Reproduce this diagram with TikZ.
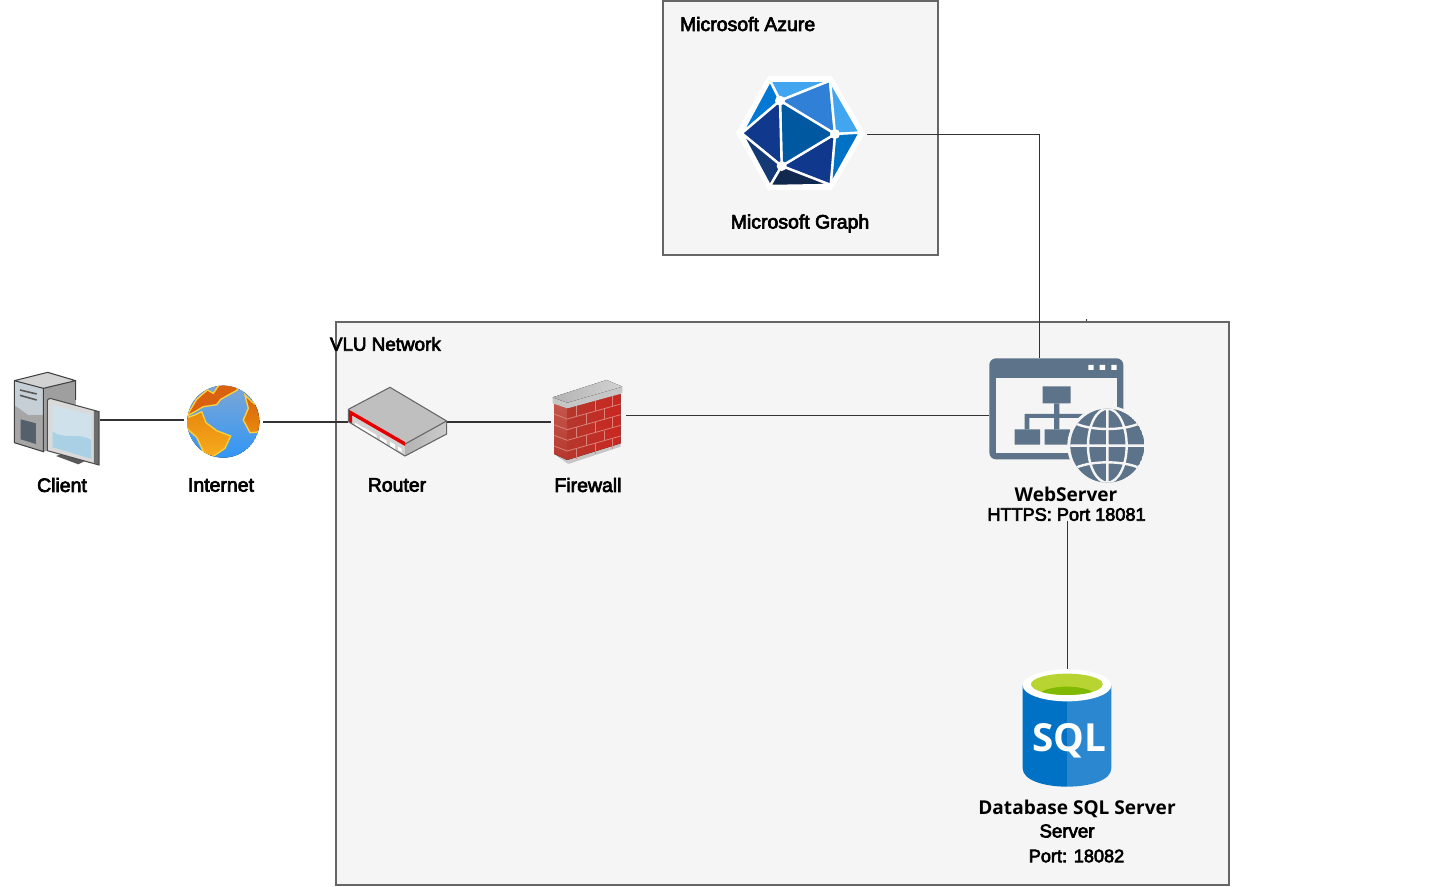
\documentclass[tikz,border=0pt]{standalone}
\usepackage{fontspec}
\setmainfont{Liberation Sans}[AutoFakeBold=3.5]
\newfontfamily\headfont{Open Sans}
\usetikzlibrary{positioning}
\definecolor{boxfill}{HTML}{F5F5F5}
\definecolor{boxline}{HTML}{666666}
\definecolor{wireline}{HTML}{333333}
\definecolor{slate}{HTML}{5D7389}
\definecolor{brick}{HTML}{B5372D}
\definecolor{brickside}{HTML}{C4574C}
\definecolor{mortar}{HTML}{D9827A}
\definecolor{landdark}{HTML}{D9610F}
\definecolor{landmid}{HTML}{E8890F}
\definecolor{landlight}{HTML}{F7AC1C}
\definecolor{landedge}{HTML}{FFD23C}
\definecolor{screentop}{HTML}{CFE2EC}
\definecolor{screenlow}{HTML}{A9D0E4}
\begin{document}
\begin{tikzpicture}[x=0.75pt,y=-0.75pt,inner sep=0pt,outer sep=0pt,
groupbox/.style={draw=boxline,fill=boxfill,line width=2.2pt},
icon/.style={rectangle},
wire/.style={draw=wireline,line width=0.6pt},
thickwire/.style={draw=wireline,line width=1.4pt},
tag/.style={font=\fontsize{14.6}{16}\selectfont\bfseries,text=black},
numtag/.style={font=\fontsize{13.6}{16}\selectfont\bfseries,text=black},
headtag/.style={font=\fontsize{14.3}{16}\headfont\bfseries,text=black}]
\useasboundingbox (0,0) rectangle (1429,887);

% stray end behind the network box
\coordinate (webtick) at (1086,319);
\draw[wire] (webtick) -- ++(0,5);

\draw[groupbox] (663,1) rectangle (938,255);
\draw[groupbox] (336,322) rectangle (1229,885);

% icon places
\draw (57,420) node[icon,minimum width=64.5pt,minimum height=72pt] (client) {};
\draw (223.5,422) node[icon,minimum width=59.25pt,minimum height=54pt] (internet) {};
\draw (397.5,422) node[icon,minimum width=74.25pt,minimum height=54pt] (router) {};
\draw (588.5,415) node[icon,minimum width=56.25pt,minimum height=75pt] (firewall) {};
\draw (1067,420) node[icon,minimum width=117pt,minimum height=93pt] (web) {};
\draw (1067,728) node[icon,minimum width=67.5pt,minimum height=88.5pt] (sql) {};
\draw (801,134) node[icon,minimum width=99pt,minimum height=88.5pt] (graph) {};
\coordinate (webtop) at (1039,358);

% labels
\draw (62,485) node[tag] (clienttag) {Client};
\draw (221,485) node[tag] (internettag) {Internet};
\draw (397,485) node[tag] (routertag) {Router};
\draw (588,485) node[tag] (firewalltag) {Firewall};
\draw (800,223.5) node[tag] (graphtag) {Microsoft Graph};
\draw (680,24) node[tag,anchor=west] (azuretag) {Microsoft Azure};
\draw (330,344) node[numtag,font=\fontsize{14.1}{16}\selectfont\bfseries,anchor=west] (vlutag) {VLU Network};
\draw (1066,494) node[headtag] (webtag) {WebServer};
\draw (1066.5,514.5) node[numtag] (webport) {HTTPS: Port 18081};
\draw (1077,808.5) node[headtag] (sqltag) {Database SQL Server};
\draw (1067,831) node[numtag,font=\fontsize{14}{16}\selectfont\bfseries] (sqlserver) {Server};
\draw (1076.5,856) node[numtag] (sqlport) {Port: 18082};

% connectors
\draw[thickwire] (client.east) -- (client.east -| internet.west);
\draw[thickwire] (internet.east) -- (router.west);
\draw[thickwire] (router.east) -- (router.east -| firewall.west);
\draw[wire] (firewall.east) -- (firewall.east -| web.west);
\draw[wire] (graph.east) -| (webtop);
\draw[wire] (sql.north |- webport.south) -- (sql.north);

% client
\begin{scope}[shift={(0,360)},scale=1/3]
\fill[gray!70] (43,62) -- (143,37) -- (227,62) -- (227,250) -- (130,275) -- (43,248) -- cycle;
\fill[gray!75] (130,85) -- (227,62) -- (227,250) -- (130,275) -- cycle;
\fill[gray!35] (43,62) -- (143,37) -- (227,62) -- (130,85) -- cycle;
\fill[white!65!slate] (43,62) -- (130,85) -- (130,165) -- (85,165) -- (43,135) -- cycle;
\fill[gray!35!slate!80!black] (62,178) -- (108,190) -- (108,252) -- (62,238) -- cycle;
\draw[black!65,line width=1.2pt] (60,90) -- (110,102) (60,106) -- (110,120);
\draw[black!75,line width=0.8pt] (43,62) -- (143,37) -- (227,62) -- (227,120) (43,62) -- (130,85) -- (227,62) (43,62) -- (43,248) -- (130,275) -- (130,85);
\fill[gray!70!black] (168,288) -- (185,282) -- (260,300) -- (235,313) -- cycle;
\fill[gray!30] (142,120) -- (150,115) -- (297,155) -- (297,315) -- (142,272) -- cycle;
\fill[gray!85!black] (282,150) -- (297,155) -- (297,315) -- (282,310) -- cycle;
\fill[screentop] (158,135) -- (274,165) -- (274,296) -- (158,262) -- cycle;
\fill[screenlow] (158,215) .. controls (190,240) and (230,215) .. (274,240) -- (274,296) -- (158,262) -- cycle;
\draw[black!70,line width=0.8pt] (142,120) -- (150,115) -- (297,155) -- (297,315) -- (142,272) -- cycle;
\end{scope}

% internet globe
\begin{scope}[shift={(0,360)},scale=1/3]
\begin{scope}
\clip (670,185) circle (108);
\fill[top color={rgb,255:red,126;green,166;blue,214},bottom color={rgb,255:red,48;green,150;blue,245}] (670,185) circle (108);
\filldraw[top color=landmid,bottom color=landlight,draw=landedge,line width=1pt] (555,175) -- (585,165) -- (605,155) -- (618,188) -- (650,212) -- (692,228) -- (675,265) -- (635,292) -- (610,275) -- (590,232) -- (555,200) -- cycle;
\filldraw[fill=landdark,draw=landedge,line width=1pt] (560,168) -- (590,118) -- (622,90) -- (640,100) -- (660,70) -- (712,70) -- (712,90) -- (662,118) -- (650,134) -- (610,140) -- (585,155) -- cycle;
\filldraw[top color=landdark,bottom color=landmid,draw=landedge,line width=1pt] (735,105) -- (755,125) -- (790,150) -- (785,215) -- (750,218) -- (730,180) -- (745,145) -- cycle;
\end{scope}
\end{scope}

% router
\begin{scope}[shift={(330,320)},scale=1/3]
\fill[gray!50] (55,268) -- (180,202) -- (350,303) -- (225,372) -- cycle;
\fill[gray!35] (55,268) -- (225,372) -- (225,408) -- (55,305) -- cycle;
\fill[left color=gray!60,right color=gray!40] (225,372) -- (350,303) -- (350,342) -- (225,408) -- cycle;
\fill[red!90!black] (55,268) -- (225,366) -- (225,378) -- (66,286) -- (66,311) -- (55,305) -- cycle;
\fill[white] (75,308) -- (140,345) -- (140,355) -- (75,318) -- cycle;
\fill[white] (150,350) -- (170,362) -- (170,372) -- (150,360) -- cycle;
\fill[white] (180,365) -- (195,374) -- (195,388) -- (180,380) -- cycle;
\fill[white] (204,380) -- (215,386) -- (215,396) -- (204,390) -- cycle;
\draw[boxline,line width=0.8pt] (55,268) -- (180,202) -- (350,303) -- (350,342) -- (225,408) -- (55,305) -- cycle (225,372) -- (350,303);
\end{scope}

% firewall
\begin{scope}[shift={(330,320)},scale=1/3]
\fill[gray!45] (680,250) -- (715,262) -- (715,432) -- (680,408) -- cycle;
\fill[gray!45] (715,432) -- (872,380) -- (872,368) -- (715,420) -- cycle;
\fill[top color=brickside,bottom color=brick] (672,250) -- (712,265) -- (712,420) -- (672,402) -- cycle;
\fill[left color=brick,right color=red!30!brick] (712,265) -- (872,220) -- (872,370) -- (712,420) -- cycle;
\foreach \row in {0,1,2,3}
  \draw[mortar,line width=0.6pt] (672,{282+\row*32}) -- (712,{297+\row*32}) -- (872,{252+\row*32});
\foreach \xa/\ya in {740/258,795/242,848/228,768/282,822/268,740/322,795/306,848/292,768/346,822/332,740/386,795/370,848/356}
  \draw[mortar,line width=0.6pt] (\xa,\ya) -- ++(0,32);
\fill[gray!45] (668,232) -- (830,180) -- (877,200) -- (877,220) -- (712,265) -- (668,250) -- cycle;
\fill[left color=gray!60,right color=gray!35] (668,232) -- (830,180) -- (877,200) -- (712,248) -- cycle;
\end{scope}

% graph hexagon
\begin{scope}[shift={(720,60)},scale=1/3]
\fill[white] (145,48) -- (335,48) -- (435,220) -- (335,390) -- (145,390) -- (48,218) -- cycle;
\coordinate (gA) at (180,122);
\coordinate (gB) at (345,222);
\coordinate (gC) at (185,318);
\coordinate (gL) at (65,220);
\coordinate (gTL) at (150,62);
\coordinate (gTR) at (330,62);
\coordinate (gR) at (420,218);
\coordinate (gBR) at (332,375);
\coordinate (gBL) at (150,378);
\tikzset{face/.style={draw=white,line width=1.8pt,line join=round}}
\filldraw[face,fill={rgb,255:red,66;green,165;blue,240}] (gTL) -- (gTR) -- (gA) -- cycle;
\filldraw[face,fill={rgb,255:red,0;green,120;blue,212}] (gTL) -- (gA) -- (gL) -- cycle;
\filldraw[face,fill={rgb,255:red,48;green,128;blue,216}] (gA) -- (gTR) -- (gB) -- cycle;
\filldraw[face,fill={rgb,255:red,66;green,165;blue,240}] (gTR) -- (gR) -- (gB) -- cycle;
\filldraw[face,fill={rgb,255:red,0;green,114;blue,198}] (gR) -- (gBR) -- (gB) -- cycle;
\filldraw[face,fill={rgb,255:red,16;green,56;blue,140}] (gB) -- (gBR) -- (gC) -- cycle;
\filldraw[face,fill={rgb,255:red,0;green,88;blue,160}] (gA) -- (gB) -- (gC) -- cycle;
\filldraw[face,fill={rgb,255:red,16;green,56;blue,140}] (gA) -- (gC) -- (gL) -- cycle;
\filldraw[face,fill={rgb,255:red,19;green,58;blue,116}] (gL) -- (gC) -- (gBL) -- cycle;
\filldraw[face,fill={rgb,255:red,18;green,41;blue,79}] (gC) -- (gBR) -- (gBL) -- cycle;
\fill[white] (gA) circle (15) (gB) circle (15) (gC) circle (15);
\end{scope}

% web server icon
\begin{scope}[shift={(970,310)},scale=1/3]
\fill[slate,rounded corners=5pt] (58,145) rectangle (460,448);
\fill[boxfill] (78,205) rectangle (442,428);
\fill[white] (355,165) rectangle (371,180) (389,165) rectangle (405,180) (424,165) rectangle (440,180);
\fill[slate] (218,229) rectangle (302,280) (134,358) rectangle (210,404) (224,358) rectangle (300,404);
\fill[slate] (252,280) rectangle (268,358) (164,312) rectangle (350,324) (164,312) rectangle (178,358);
\fill[boxfill] (412,407) circle (120);
\begin{scope}
\clip (412,407) circle (111);
\fill[slate] (412,407) circle (111);
\draw[boxfill,line width=1.8pt] (412,290) -- (412,520) (290,407) -- (530,407) (412,407) ellipse (58 and 111);
\draw[boxfill,line width=1.8pt] (320,342) .. controls (370,362) and (454,362) .. (504,342);
\draw[boxfill,line width=1.8pt] (320,472) .. controls (370,452) and (454,452) .. (504,472);
\end{scope}
\end{scope}

% sql cylinder
\begin{scope}[shift={(970,660)},scale=1/3]
\fill[fill={rgb,255:red,0;green,114;blue,198}] (158,76) -- (291,76) -- (291,380) .. controls (220,380) and (158,360) .. (158,325) -- cycle;
\fill[fill={rgb,255:red,43;green,136;blue,208}] (424,76) -- (291,76) -- (291,380) .. controls (362,380) and (424,360) .. (424,325) -- cycle;
\fill[white] (291,76) ellipse (133 and 48);
\begin{scope}
\clip (291,73) ellipse (108 and 32);
\fill[fill={rgb,255:red,184;green,212;blue,50}] (291,73) ellipse (108 and 32);
\fill[fill={rgb,255:red,127;green,186;blue,0}] (291,108) ellipse (85 and 28);
\end{scope}
\node[text=white,font=\fontsize{29}{30}\headfont\bfseries] (sqlmark) at (298,242) {SQL};
\end{scope}
\end{tikzpicture}
\end{document}
